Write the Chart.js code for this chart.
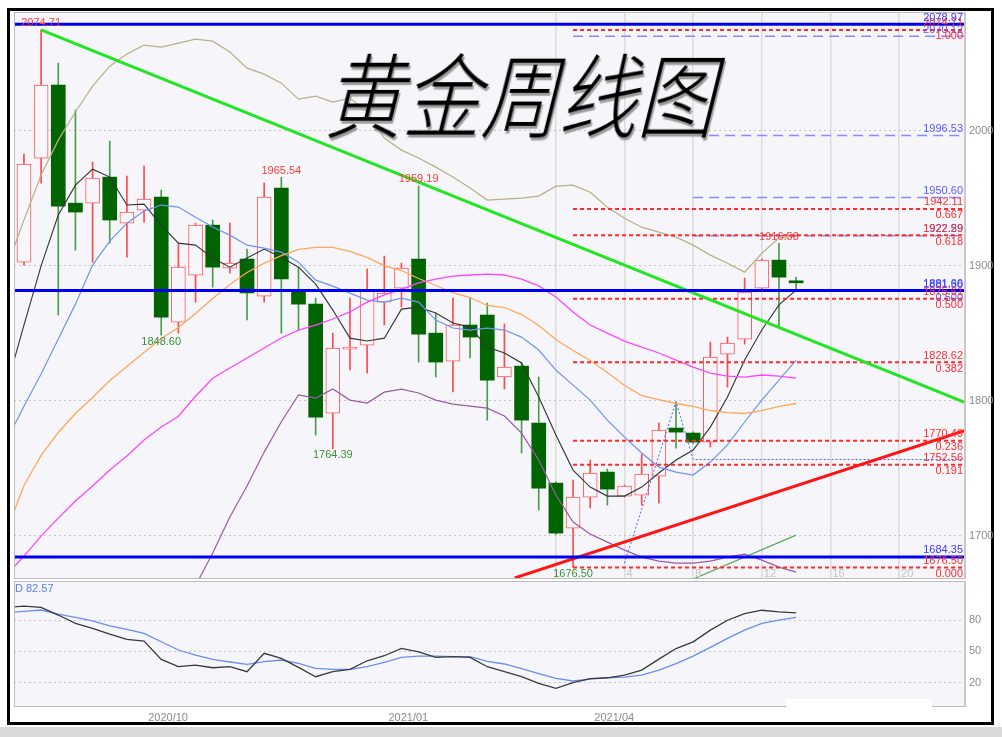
<!DOCTYPE html>
<html><head><meta charset="utf-8">
<script src="https://cdn.jsdelivr.net/npm/chart.js@4.4.1/dist/chart.umd.min.js"></script>
<style>
html,body{margin:0;padding:0;background:#fff;width:1002px;height:737px;overflow:hidden;position:relative}
#frame{position:absolute;left:7px;top:8px;width:981px;height:711px;border:3px solid #000;background:#fff}
#strip{position:absolute;left:0;top:727px;width:1002px;height:10px;background:#d9d9d9}
#main{position:absolute;left:14px;top:12px}
#lower{position:absolute;left:14px;top:581px}
#title{position:absolute;left:334px;top:52px;width:392px;height:78px;font-family:'Noto Sans CJK SC';font-weight:300;font-size:78px;line-height:78px;color:#000;transform-origin:50% 50%;transform:skewX(-14deg) scaleY(1.18);text-shadow:2px 2px 1px #9a9a9a;white-space:nowrap}
#mask{position:absolute;left:786px;top:699px;width:146px;height:19px;background:#fff}
</style></head>
<body>
<div id="frame"></div>
<div id="strip"></div>
<canvas id="main" width="982" height="567"></canvas>
<canvas id="lower" width="982" height="146"></canvas>
<div id="title">黄金周线图</div>
<div id="mask"></div>
<script>
// ---------- data ----------
const opens  = [1902.7,1979.8,2033.9,1946.4,1946.4,1965.7,1931.6,1941.3,1950.9,1858.3,1893.1,1930.1,1898.3,1905.0,1877.5,1957.6,1882.0,1871.6,1790.9,1838.3,1841.3,1873.1,1883.4,1905.0,1850.1,1829.4,1856.1,1863.5,1817.6,1825.7,1783.5,1739.0,1705.7,1728.7,1747.2,1729.4,1730.1,1744.2,1779.8,1776.1,1769.4,1834.6,1845.7,1883.5,1904.2,1887.8];
const highs  = [1982.7,2074.71,2050.1,2015.3,1976.8,1992.4,1966.4,1973.9,1956.1,1916.8,1931.6,1933.9,1931.6,1912.4,1961.3,1965.54,1899.0,1876.1,1850.1,1876.1,1897.6,1907.2,1902.0,1959.19,1864.9,1876.1,1876.1,1872.4,1856.9,1828.7,1817.6,1740.0,1741.3,1756.1,1749.4,1737.5,1760.5,1783.5,1799.0,1777.0,1843.5,1847.2,1890.9,1905.0,1916.58,1891.6];
const lows   = [1900.5,1961.3,1863.5,1911.6,1902.7,1916.8,1906.4,1932.4,1848.60,1850.1,1873.1,1884.2,1894.6,1859.9,1873.1,1850.1,1852.4,1774.6,1764.39,1822.8,1820.5,1856.1,1869.4,1828.7,1817.6,1806.5,1831.7,1785.7,1808.7,1761.3,1719.1,1701.0,1676.50,1720.6,1722.7,1728.8,1722.7,1724.2,1764.9,1768.5,1765.7,1810.1,1842.0,1882.5,1855.4,1882.0];
const closes = [1975.3,2033.9,1944.2,1939.8,1965.0,1933.9,1939.8,1949.4,1862.0,1899.0,1930.1,1899.0,1902.0,1879.9,1950.9,1890.2,1871.6,1787.9,1839.1,1839.8,1882.0,1879.8,1898.3,1849.4,1828.7,1856.1,1847.2,1815.3,1825.0,1785.7,1735.3,1702.0,1728.7,1746.5,1734.6,1736.8,1745.7,1778.3,1776.8,1769.4,1832.4,1842.8,1880.5,1904.2,1891.6,1887.4];

// moving averages / bands, index 0 = week before first visible candle
const ma5  = [1811,1856,1900,1937.6,1959.7,1971.6,1965.7,1945,1945.7,1930,1916.8,1915.3,1905.7,1899,1905.7,1912.4,1906.4,1899,1886.4,1867.2,1846.4,1844.3,1846.4,1867.9,1869.4,1865,1857.6,1854.6,1839.8,1835.4,1828,1802.8,1774.7,1748.7,1736.1,1729.4,1729.4,1736.1,1746.5,1756.1,1763.5,1780.5,1802.8,1830.2,1852.4,1871,1882];
const ma10 = [1770.8,1796,1819.8,1845.8,1871.6,1900.5,1918.3,1931.6,1940.5,1945,1943.5,1936,1928.7,1922.7,1915.3,1913.1,1910.1,1902.7,1889.4,1884.9,1879.8,1874.6,1873.1,1876,1873.1,1859.8,1853.9,1852.4,1853.9,1852.4,1847.2,1837.6,1822.8,1811.6,1800.5,1785.7,1773.1,1761.3,1750.9,1747.2,1745,1754.6,1767.3,1784.3,1800.5,1815.3,1830.2];
const ma20 = [1704,1737.3,1759.5,1776.5,1790.6,1802.4,1815,1825.4,1835.8,1846.1,1854.3,1864.7,1875.8,1886.1,1895,1902,1907.6,1912.1,1913.6,1913.6,1910.6,1906.2,1900.2,1896.5,1890.6,1885.4,1880.2,1876.5,1870.6,1869.1,1863.9,1855.8,1845.4,1837.3,1829.9,1820.9,1811.3,1803.9,1800.9,1798,1795.8,1792.8,1791.3,1790.6,1792.8,1795.8,1798];
const ma40 = [1671,1685,1699.8,1713.1,1725.8,1736.9,1748.7,1759.1,1771,1780.6,1788.6,1803.4,1816.7,1824.3,1831.7,1839.1,1846.5,1852.4,1856.1,1860.6,1865.8,1873.1,1878.4,1882.8,1887.3,1890.2,1892.4,1893.2,1893.9,1893.2,1890.2,1885.1,1876.9,1865.8,1856.1,1850.1,1844.2,1839.8,1835.4,1830.2,1825,1820.5,1818.3,1817.6,1819.1,1818.3,1816.8];
const bandUp = [1898.7,1933.9,1967.3,1993.1,2013.9,2033.1,2047.9,2056.8,2063.5,2062,2065,2067.9,2066.4,2058.3,2046.4,2042,2035.3,2023.5,2025.7,2021.2,2024.2,2013.9,1994.6,1985.7,1979.9,1973.1,1965.7,1957.6,1948.7,1949.4,1950.1,1951.6,1959,1959.7,1954.5,1943.4,1935.2,1928.6,1924.9,1921.2,1915.3,1907.9,1901.9,1895.3,1909.3,1920.5,1922];
const bandLo = [null,null,null,null,null,null,null,null,null,null,1643.6,1663,1687.3,1713.9,1736.9,1762,1784.5,1804.3,1802,1808.7,1800.5,1798.3,1806.4,1808.7,1805.8,1800.5,1797.6,1796.1,1794.6,1788.7,1776.1,1756.1,1730.2,1710.2,1701.3,1695.3,1689.4,1684.2,1681.3,1679.8,1679.8,1681.3,1684.2,1686.4,1682,1676.8,1673.1];

// stochastic (lower panel)
const stochK = [92,93.4,92.1,84.8,76.9,72,66.6,61.5,59.9,42.3,35.3,36.9,34.3,35.3,30.5,48.1,43.3,34.6,25.7,30.5,32.8,41,45.8,52.9,49.6,44.3,44.9,44.3,35.3,30.5,25.7,19.4,14.6,20,23.8,24.7,27.2,32,42.6,52.7,59.1,70.3,79.8,86.2,89.4,87.8,86.8];
const stochD = [87,88.3,89.6,85.7,82.6,79.3,74.3,71.1,67.3,59.2,51.3,46.5,42.3,39.8,37.6,40.1,41.7,38.5,33.7,32.8,32.8,35.3,39.5,44.3,45.5,45.5,44.9,44.9,40.4,37.9,33.4,28.6,24.1,21.6,23.5,24.7,25.4,27.3,32.1,38.2,45.5,53.8,62.5,70.4,76.8,80,82.57];

// levels and drawn objects
const fibStart = 33;
const fibPrices = [2074.71,1942.11,1922.59,1875.61,1828.62,1770.49,1752.56,1676.50];
const fibRatios = ['1.000','0.667','0.618','0.500','0.382','0.236','0.191','0.000'];
const blueSolidLevels = [2078.97,1881.66,1684.35];
const blueDashLevels = [2070.12,1996.53,1950.60,1922.29,1881.30];
const blueDashStart  = [33,40,40,40,40];
const blueDashRatio  = ['','','','','0.500'];
const greenTrendIdx = [2,55.9],   greenTrendVal = [2074.71,1798.5];
const redTrendIdx   = [29.6,55.9], redTrendVal   = [1668.8,1778.3];
const thinGreenIdx  = [39.8,46],   thinGreenVal  = [1666.9,1700.5];
const zigIdx = [36,39,40,55.9], zigVal = [1679.8,1799.3,1756.5,1756.5];
const highLabels = [{i:2,v:2074.71},{i:16,v:1965.54},{i:24,v:1959.19},{i:45,v:1916.58}];
const lowLabels  = [{i:9,v:1848.60},{i:19,v:1764.39},{i:33,v:1676.50}];
const gridIdx  = [32,36,40,44,48,52];
const cycleIdx = [36,40,44,48,52];
const cycleText = ['4','8','12','16','20'];
const priceTicks = [1700,1800,1900,2000];
const oscTicks = [20,50,80];
const dateTickIdx = [9.4,23.4,35.4];
const dateTickText = ['2020/10','2021/01','2021/04'];
const xMin = 0.42, xMax = 55.9;

// ---------- chart ----------
const FONT = '"Liberation Sans Narrow","Liberation Sans",sans-serif';
Chart.defaults.font.family = FONT;
Chart.defaults.font.size = 11;

const upBody=[],downBody=[],upWick=[],downWick=[];
opens.forEach((o,k)=>{
  const up = closes[k] >= o, x = k+1;
  (up?upBody:downBody).push({x, y:[o, closes[k]]});
  (up?upWick:downWick).push({x, y:[lows[k], highs[k]]});
});
const seriesDs = (arr,color,w,order=2)=>({type:'line',data:arr.map((v,k)=>({x:k,y:v})),borderColor:color,borderWidth:w,pointRadius:0,tension:0,fill:false,order});
const segDs = (xs,ys,color,w,dash,order=1)=>({type:'line',data:xs.map((xv,k)=>({x:xv,y:ys[k]})),borderColor:color,borderWidth:w,borderDash:dash||[],pointRadius:0,tension:0,fill:false,order});

const datasets = [
  {type:'bar',data:upWick,backgroundColor:'#ff4a4a',barThickness:1,grouped:false,order:5},
  {type:'bar',data:downWick,backgroundColor:'#4c9c4c',barThickness:1,grouped:false,order:5},
  {type:'bar',data:upBody,backgroundColor:'#f7f7fb',borderColor:'#ff5a5a',borderWidth:1,borderSkipped:false,barThickness:14,grouped:false,minBarLength:2,order:4},
  {type:'bar',data:downBody,backgroundColor:'#006400',borderColor:'#006400',borderWidth:0,barThickness:14,grouped:false,minBarLength:2,order:4},
  seriesDs(bandUp,'#b7b186',1.2),
  seriesDs(bandLo,'#9b5aa8',1.2),
  seriesDs(ma40,'#ff46ff',1.3),
  seriesDs(ma20,'#ffa85a',1.3),
  seriesDs(ma10,'#6f94f0',1.2),
  seriesDs(ma5,'#333333',1.1),
];
fibPrices.forEach(v=>datasets.push(segDs([fibStart,xMax],[v,v],'#ff2a2a',2,[4,3])));
blueDashLevels.forEach((v,k)=>datasets.push(segDs([blueDashStart[k],xMax],[v,v],'#8a8aff',1.5,[10,6])));
blueSolidLevels.forEach(v=>datasets.push(segDs([xMin,xMax],[v,v],'#0000f0',3,null,0)));
datasets.push(segDs(greenTrendIdx,greenTrendVal,'#22e622',3,null,0));
datasets.push(segDs(redTrendIdx,redTrendVal,'#ff1414',3,null,0));
datasets.push(segDs(thinGreenIdx,thinGreenVal,'#5aaa5a',1.2));
datasets.push(segDs(zigIdx,zigVal,'#4a64ff',1,[2,2]));

const framePlugin = {id:'frameBg',
  beforeDraw(c){const {ctx,chartArea:a}=c;ctx.save();ctx.fillStyle='#f5f5fa';ctx.fillRect(a.left,a.top,a.right-a.left,a.bottom-a.top);ctx.restore();},
  afterDraw(c){const {ctx,chartArea:a}=c;ctx.save();ctx.strokeStyle='#bcbcbc';ctx.lineWidth=1;
    ctx.strokeRect(a.left+0.5,a.top+0.5,a.right-a.left-1,a.bottom-a.top-1);
    ctx.lineWidth=2;ctx.strokeStyle='#c8c8c8';ctx.beginPath();ctx.moveTo(a.right-1,a.top);ctx.lineTo(a.right-1,a.bottom);ctx.stroke();ctx.restore();}
};
const mainText = {id:'mainText', afterDatasetsDraw(c){
  const {ctx,chartArea:a,scales:{x,y}} = c;
  ctx.save(); ctx.font = '11px '+FONT;
  ctx.textAlign='center';
  ctx.fillStyle='#ff3b3b'; ctx.textBaseline='bottom';
  highLabels.forEach(p=>ctx.fillText(p.v.toFixed(2),x.getPixelForValue(p.i),y.getPixelForValue(p.v)-1));
  ctx.fillStyle='#3b8f3b'; ctx.textBaseline='top';
  lowLabels.forEach(p=>ctx.fillText(p.v.toFixed(2),x.getPixelForValue(p.i),y.getPixelForValue(p.v)+1));
  ctx.textAlign='left'; ctx.textBaseline='bottom'; ctx.fillStyle='#c4c4c4';
  cycleIdx.forEach((v,k)=>ctx.fillText(cycleText[k],x.getPixelForValue(v)+2,a.bottom));
  ctx.textAlign='right'; const R=a.right-3;
  blueDashLevels.forEach((v,k)=>{const py=y.getPixelForValue(v);ctx.fillStyle='#5a5aff';
    ctx.textBaseline='bottom';ctx.fillText(v.toFixed(2),R,py-1);
    if(blueDashRatio[k]){ctx.textBaseline='top';ctx.fillText(blueDashRatio[k],R,py+1);}});
  fibPrices.forEach((v,k)=>{const py=y.getPixelForValue(v);ctx.fillStyle='#ff3030';
    ctx.textBaseline='bottom';ctx.fillText(v.toFixed(2),R,py-1);
    ctx.textBaseline='top';ctx.fillText(fibRatios[k],R,py+1);});
  blueSolidLevels.forEach(v=>{const py=y.getPixelForValue(v);ctx.fillStyle='#3a3aff';
    ctx.textBaseline='bottom';ctx.fillText(v.toFixed(2),R,py-1);});
  ctx.restore();
}};

new Chart(document.getElementById('main'),{
  type:'bar', data:{datasets},
  options:{responsive:false,animation:false,devicePixelRatio:1,
    layout:{padding:0,autoPadding:false},
    plugins:{legend:{display:false},tooltip:{enabled:false}},
    scales:{
      x:{type:'linear',min:xMin,max:xMax,offset:false,
        afterBuildTicks:s=>{s.ticks=gridIdx.map(v=>({value:v}));},
        afterFit:s=>{s.height=0;s.paddingLeft=0;s.paddingRight=0;},
        ticks:{display:false},grid:{color:'#dcdcdc',lineWidth:1.5,drawTicks:false,offset:false},border:{display:false}},
      y:{type:'linear',position:'right',min:1668,max:2088,
        afterBuildTicks:s=>{s.ticks=priceTicks.map(v=>({value:v}));},
        afterFit:s=>{s.width=30;s.paddingTop=0;s.paddingBottom=0;},
        ticks:{color:'#8a8a8a',padding:3,font:{size:11},callback:v=>String(v)},
        grid:{color:'#c6c6c6',drawTicks:false},border:{display:false,dash:[2,3]}}
    }},
  plugins:[framePlugin,mainText]
});

const lowerText = {id:'lowerText', afterDatasetsDraw(c){
  const {ctx,chartArea:a}=c; ctx.save(); ctx.font='11px '+FONT; ctx.fillStyle='#5a7ff0';
  ctx.textAlign='left'; ctx.textBaseline='top';
  ctx.fillText('D '+stochD[stochD.length-1].toFixed(2),a.left+1,a.top+2); ctx.restore();
}};
new Chart(document.getElementById('lower'),{
  type:'line',
  data:{datasets:[
    {data:stochK.map((v,k)=>({x:k,y:v})),borderColor:'#3a3a3a',borderWidth:1.3,pointRadius:0,tension:0,fill:false},
    {data:stochD.map((v,k)=>({x:k,y:v})),borderColor:'#6a8ff0',borderWidth:1.3,pointRadius:0,tension:0,fill:false}
  ]},
  options:{responsive:false,animation:false,devicePixelRatio:1,
    layout:{padding:0,autoPadding:false},
    plugins:{legend:{display:false},tooltip:{enabled:false}},
    scales:{
      x:{type:'linear',min:xMin,max:xMax,offset:false,
        afterBuildTicks:s=>{s.ticks=dateTickIdx.map(v=>({value:v}));},
        afterFit:s=>{s.height=20;s.paddingLeft=0;s.paddingRight=0;},
        ticks:{callback:(v,i)=>dateTickText[i],color:'#8a8a8a',maxRotation:0,autoSkip:false,padding:4,font:{size:11}},
        grid:{display:false,drawTicks:false},border:{display:false}},
      y:{type:'linear',position:'right',min:-3.3,max:117.4,
        afterBuildTicks:s=>{s.ticks=oscTicks.map(v=>({value:v}));},
        afterFit:s=>{s.width=30;s.paddingTop=0;s.paddingBottom=0;},
        ticks:{color:'#8a8a8a',padding:3,font:{size:11},callback:v=>String(v)},
        grid:{color:'#c6c6c6',drawTicks:false},border:{display:false,dash:[2,3]}}
    }},
  plugins:[framePlugin,lowerText]
});
</script>
</body></html>
